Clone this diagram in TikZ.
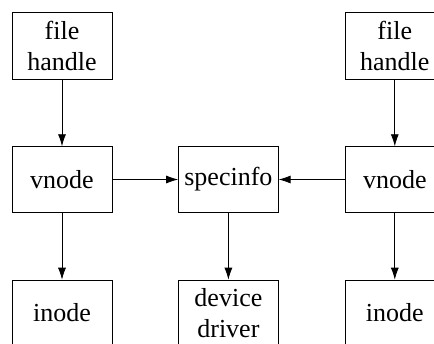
\documentclass[tikz,border=0pt]{standalone}
\usepackage{fontspec}
\setmainfont{Liberation Serif}
\usepackage{tikz}
\usetikzlibrary{arrows.meta,positioning}
\tikzstyle{block} = [rectangle, draw, align=center, minimum width = 100pt, minimum height = 66pt, inner sep = 0pt, font = \rmfamily\fontsize{26}{31}\selectfont]
\tikzstyle{line} = [-{Latex[length=12pt, width=8pt]}, line width = 0.8pt]

\begin{document}
\begin{tikzpicture}[node distance = 67pt and 66pt]
        \useasboundingbox (0pt,0pt) rectangle (434pt,343pt);
        \clip (0pt,0pt) rectangle (434pt,343pt);
        \node(vnL) [block] at (62pt,163.5pt) {vnode};
        \node(spec) [block, right = of vnL] {specinfo};
        \node(vnR) [block, right = of spec] {vnode};
        \node(fhL) [block, above = of vnL, minimum height = 67pt] {file\\handle};
        \node(fhR) [block, above = of vnR, minimum height = 67pt] {file\\handle};
        \node(inL) [block, below = of vnL] {inode};
        \node(dev) [block, below = of spec] {device\\driver};
        \node(inR) [block, below = of vnR] {inode};
        \draw[line] (fhL) -- (vnL);
        \draw[line] (fhR) -- (vnR);
        \draw[line] (vnL) -- (spec);
        \draw[line] (vnR) -- (spec);
        \draw[line] (vnL) -- (inL);
        \draw[line] (spec) -- (dev);
        \draw[line] (vnR) -- (inR);
    \end{tikzpicture}
\end{document}
